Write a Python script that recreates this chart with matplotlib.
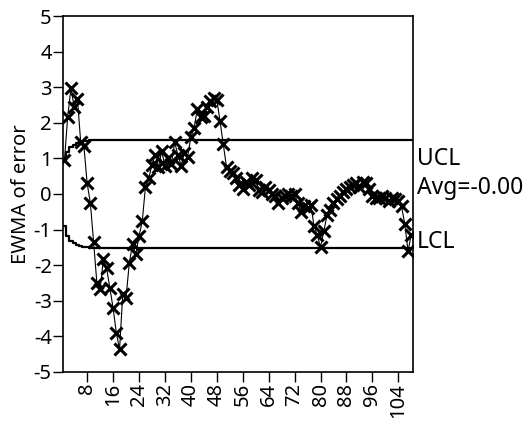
import numpy as np
import matplotlib
matplotlib.use("Agg")
import matplotlib.pyplot as plt
import matplotlib.transforms as mtransforms

plt.rcParams['font.family'] = ['Noto Sans', 'DejaVu Sans']
plt.rcParams['axes.unicode_minus'] = False

# EWMA values, sample 1..108
ewma = [0.96, 2.17, 2.97, 2.45, 2.68, 1.47, 1.35, 0.30, -0.26, -1.36,
        -2.50, -2.68, -1.84, -2.08, -2.64, -3.20, -3.90, -4.37, -2.80, -2.92,
        -1.94, -1.42, -1.70, -1.19, -0.77, 0.21, 0.44, 0.82, 1.10, 0.75,
        1.20, 0.80, 1.00, 0.85, 1.45, 1.10, 0.80, 1.15, 1.05, 1.60,
        1.85, 2.40, 2.15, 2.20, 2.45, 2.60, 2.70, 2.65, 2.05, 1.40,
        0.75, 0.65, 0.60, 0.45, 0.25, 0.15, 0.35, 0.25, 0.45, 0.40,
        0.10, 0.05, 0.20, 0.10, 0.00, -0.05, -0.25, -0.10, -0.05, 0.00,
        -0.05, 0.00, -0.25, -0.50, -0.35, -0.40, -0.30, -0.90, -1.15, -1.50,
        -1.05, -0.60, -0.45, -0.25, -0.15, -0.05, 0.05, 0.15, 0.20, 0.25,
        0.30, 0.20, 0.35, 0.30, 0.15, -0.05, -0.10, -0.10, -0.05, -0.10,
        -0.20, -0.10, -0.15, -0.20, -0.35, -0.85, -1.60, -1.15]

# control limit half-width: widens over the first samples, then flat
limit_start = [0.91, 1.17, 1.31, 1.39, 1.44, 1.47, 1.49, 1.50, 1.51, 1.51]
limit_flat = 1.52
avg_label = "Avg=-0.00"

xticks = [8, 16, 24, 32, 40, 48, 56, 64, 72, 80, 88, 96, 104]
yticks = [-5, -4, -3, -2, -1, 0, 1, 2, 3, 4, 5]

n = len(ewma)
xs = np.arange(1, n + 1)
half = np.array(limit_start + [limit_flat] * (n - len(limit_start)))
ucl = half
lcl = -half

fig = plt.figure(figsize=(5.28, 4.24), dpi=100)
ax = fig.add_axes([0.119, 0.123, 0.663, 0.839])

edges = np.arange(0.5, n + 1)
ax.step(edges, np.r_[ucl, ucl[-1]], where='post', color='black', lw=1.6)
ax.step(edges, np.r_[lcl, lcl[-1]], where='post', color='black', lw=1.6)

ax.plot(xs, ewma, color='black', lw=0.8, marker='x', ms=9, mew=2.2)

ax.set_xlim(0.5, n + 0.5)
ax.set_ylim(-5, 5)
ax.set_xticks(xticks)
ax.set_xticklabels([str(t) for t in xticks], rotation=90)
ax.set_yticks(yticks)
ax.tick_params(axis='both', direction='out', length=7, width=1, labelsize=14.5, pad=1)
for s in ax.spines.values():
    s.set_linewidth(1.2)

ax.set_ylabel("EWMA of error", fontsize=14.5, labelpad=2)

# right-hand labels sit on their baselines
trans = mtransforms.blended_transform_factory(ax.transAxes, ax.transData)
ax.text(1.012, 0.82, "UCL", transform=trans, fontsize=16.5, va='baseline', ha='left')
ax.text(1.012, 0.0, avg_label, transform=trans, fontsize=16.5, va='baseline', ha='left')
ax.text(1.012, -limit_flat, "LCL", transform=trans, fontsize=16.5, va='baseline', ha='left')

fig.savefig("out.png", dpi=100)
